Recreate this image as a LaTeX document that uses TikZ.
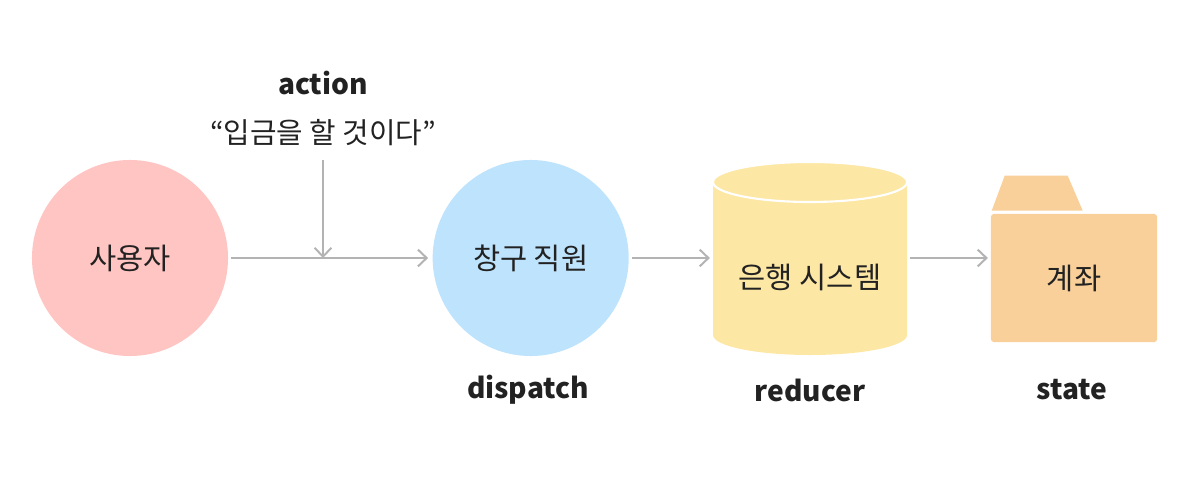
\documentclass[tikz,border=0pt]{standalone}
\usepackage{fontspec}
\setmainfont{Noto Sans CJK KR}
\usetikzlibrary{positioning}
\usetikzlibrary{arrows.meta}
\usetikzlibrary{calc}
\definecolor{userpink}{HTML}{FFC5C2}
\definecolor{clerkblue}{HTML}{BEE3FC}
\definecolor{bankyellow}{HTML}{FDE7A4}
\definecolor{acctorange}{HTML}{F9D09A}
\definecolor{flowgray}{HTML}{B3B3B3}
\definecolor{inkdark}{HTML}{222222}
\tikzset{
  flow/.style={draw=flowgray, line width=1.4pt, -{Straight Barb[length=2.2mm,width=4.2mm]}},
  hangul/.style={font=\fontsize{21}{25}\selectfont, text=inkdark},
  actor/.style={circle, minimum size=4.9cm, inner sep=0pt, hangul},
  tag/.style={font=\fontsize{20}{24}\selectfont\bfseries, text=inkdark},
}

\begin{document}
\begin{tikzpicture}[x=0.025cm, y=-0.025cm]
            \useasboundingbox (0,0) rectangle (1201,499);
            \node (user) [actor, fill=userpink] at (130,258) {사용자};
            \node (clerk) [actor, fill=clerkblue, right=5.1cm of user] {창구 직원};

            % bank system drum
            \fill[bankyellow] (713,182) -- (713,335) arc (180:360:2.425cm and 0.5cm)
                -- (907,182) arc (0:180:2.425cm and 0.5cm) -- cycle;
            \draw[white, fill=bankyellow, line width=1.5pt] (810,182) ellipse (2.425cm and 0.5cm);
            \node (bank) [hangul, minimum width=4.85cm] at (810,277) {은행 시스템};

            % account folder
            \node (acct) [hangul, fill=acctorange, rounded corners=2pt, minimum width=4.15cm,
                          minimum height=3.2cm] at (1074,278) {계좌};
            \fill[acctorange] ($(acct.north west)+(1,-3)$) -- ++(13,-35) -- ++(63,0) -- ++(15,35) -- cycle;

            \node (action) [tag] at (323,83) {action};
            \node (deposit) [font=\fontsize{20.5}{24}\selectfont, text=inkdark] at (323,133) {“입금을 할 것이다”};
            \coordinate (actiontop) at (323,160);
            \coordinate (actionhit) at (323,258);

            \node (dispatch) [tag] at (528,390) {dispatch};
            \node (reducer) [tag] at (810,390) {reducer};
            \node (state) [tag] at (1072,390) {state};

            \draw[flow, shorten <=2pt, shorten >=3pt] (user) -- (clerk);
            \draw[flow] (actiontop) -- (actionhit);
            \draw[flow, shorten <=2pt, shorten >=2pt] (clerk) -- (bank.west |- clerk.east);
            \draw[flow, shorten <=2pt, shorten >=2pt] (bank.east |- clerk.east) -- (acct.west |- clerk.east);
\end{tikzpicture}
\end{document}
